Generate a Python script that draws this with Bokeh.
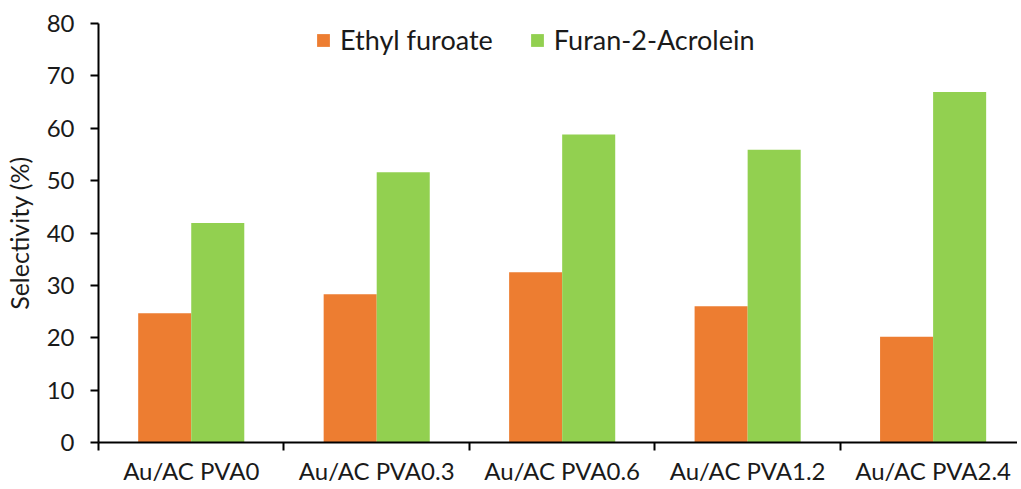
from bokeh.plotting import figure
from bokeh.models import ColumnDataSource, FixedTicker, Range1d, Legend, LegendItem
from bokeh.embed import file_html
from bokeh.resources import INLINE

categories = ["Au/AC PVA0", "Au/AC PVA0.3", "Au/AC PVA0.6", "Au/AC PVA1.2", "Au/AC PVA2.4"]
ethyl_furoate = [24.7, 28.3, 32.5, 26.0, 20.2]
furan_acrolein = [41.9, 51.6, 58.8, 55.9, 66.9]
y_ticks = [0, 10, 20, 30, 40, 50, 60, 70, 80]

ORANGE = "#ED7D31"
GREEN = "#92D050"
FONT = "Lato"
BW = 0.286

idx = list(range(len(categories)))
centers = [i + 0.5 for i in idx]

src_e = ColumnDataSource(dict(x=[c - BW / 2 for c in centers], top=ethyl_furoate))
src_f = ColumnDataSource(dict(x=[c + BW / 2 for c in centers], top=furan_acrolein))

p = figure(frame_width=919, frame_height=419, output_backend="svg", toolbar_location=None,
           x_range=Range1d(0, 4.955), y_range=Range1d(0, 80),
           min_border_left=91, min_border_right=0, min_border_top=23, min_border_bottom=10)

r1 = p.vbar(x="x", top="top", width=BW, bottom=0, source=src_e, fill_color=ORANGE, line_color=None)
r2 = p.vbar(x="x", top="top", width=BW, bottom=0, source=src_f, fill_color=GREEN, line_color=None)

p.outline_line_color = None
p.xgrid.visible = False
p.ygrid.visible = False

# x axis: labels at centres, ticks at category boundaries
p.xaxis.ticker = FixedTicker(ticks=centers, minor_ticks=[0, 1, 2, 3, 4, 5])
p.xaxis.major_label_overrides = {c: categories[i] for i, c in enumerate(centers)}
p.xaxis.major_tick_out = 0
p.xaxis.major_tick_in = 0
p.xaxis.minor_tick_out = 8
p.xaxis.minor_tick_in = 0
p.xaxis.minor_tick_line_color = "black"
p.xaxis.minor_tick_line_width = 2
p.xaxis.axis_line_width = 2
p.xaxis.axis_line_color = "black"
p.xaxis.major_label_text_font = FONT
p.xaxis.major_label_text_font_size = "24px"
p.xaxis.major_label_text_color = "#1a1a1a"
p.xaxis.major_label_standoff = 5

p.yaxis.ticker = FixedTicker(ticks=y_ticks)
p.yaxis.minor_tick_line_color = None
p.yaxis.major_tick_out = 8
p.yaxis.major_tick_in = 0
p.yaxis.major_tick_line_width = 2
p.yaxis.major_tick_line_color = "black"
p.yaxis.axis_line_width = 2
p.yaxis.axis_line_color = "black"
p.yaxis.major_label_text_font = FONT
p.yaxis.major_label_text_font_size = "24px"
p.yaxis.major_label_text_color = "#1a1a1a"
p.yaxis.major_label_standoff = 16
p.yaxis.axis_label = "Selectivity (%)"
p.yaxis.axis_label_text_font = FONT
p.yaxis.axis_label_text_font_size = "25px"
p.yaxis.axis_label_text_font_style = "normal"
p.yaxis.axis_label_text_color = "#1a1a1a"
p.yaxis.axis_label_standoff = 10

legend = Legend(items=[LegendItem(label="Ethyl furoate", renderers=[r1]),
                       LegendItem(label="Furan-2-Acrolein", renderers=[r2])],
                orientation="horizontal", location=(217, 386))
legend.border_line_color = None
legend.background_fill_alpha = 0
legend.label_text_font = FONT
legend.label_text_font_size = "27px"
legend.label_text_color = "#1a1a1a"
legend.label_height = 30
legend.glyph_width = 16
legend.glyph_height = 16
legend.label_standoff = 9
legend.spacing = 36
legend.padding = 0
legend.margin = 0
p.add_layout(legend)

open("out.html", "w").write(file_html(p, INLINE))
